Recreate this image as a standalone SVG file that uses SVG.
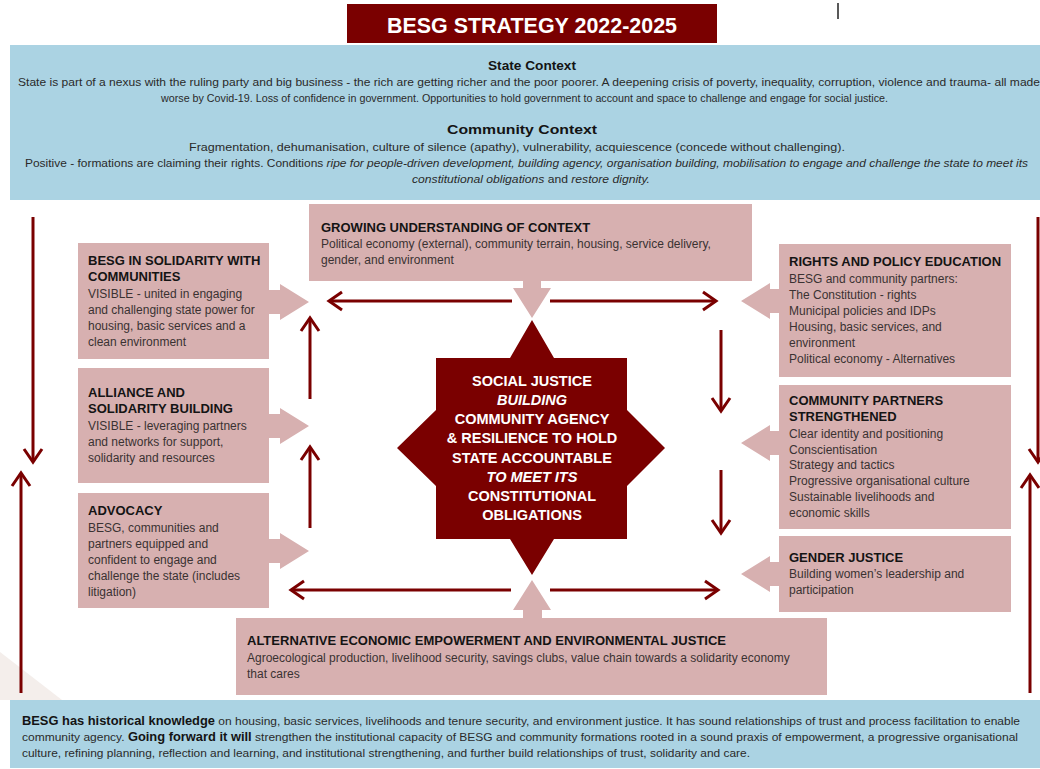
<svg xmlns="http://www.w3.org/2000/svg" width="1040" height="769" viewBox="0 0 1040 769">
<defs>
<style>
.pink{fill:#d7b0b0}
.blue{fill:#abd3e3}
.maroon{fill:#7a0000}
.ttl{font-family:"Liberation Sans",Arial,sans-serif;font-weight:bold;font-size:13px;fill:#141414}
.bd{font-family:"Liberation Sans",Arial,sans-serif;font-size:12px;fill:#3a3232}
.ctx{font-family:"Liberation Sans",Arial,sans-serif;font-size:11.2px;fill:#2a2a2a}
.ctxh{font-family:"Liberation Sans",Arial,sans-serif;font-size:12px;font-weight:bold;fill:#141414}
.star{font-family:"Liberation Sans",Arial,sans-serif;font-size:14.5px;font-weight:bold;fill:#ffffff;text-anchor:middle}
.ln{fill:none;stroke:#7a0000;stroke-width:3;marker-end:url(#ah)}
</style>
<marker id="ah" viewBox="-16 -12 20 24" refX="0" refY="0" markerWidth="20" markerHeight="24" markerUnits="userSpaceOnUse" orient="auto">
<path d="M-13,-9 L0,0 L-13,9" fill="none" stroke="#7a0000" stroke-width="3"/>
</marker>
</defs>
<rect width="1040" height="769" fill="#ffffff"/>
<polygon points="0,652 62,700 0,700" fill="#f4eeeb"/>
<line x1="838" y1="3" x2="838" y2="19" stroke="#222" stroke-width="1.5"/>

<g id="title">
<rect x="347" y="4" width="370" height="39" class="maroon"/>
<text x="387" y="33" font-family="Liberation Sans,Arial,sans-serif" font-weight="bold" font-size="21.5" fill="#fff" textLength="290" lengthAdjust="spacingAndGlyphs">BESG STRATEGY 2022-2025</text>
</g>

<g id="context">
<rect x="10" y="45" width="1030" height="155" class="blue"/>
<text x="488" y="70" class="ctxh" textLength="88" lengthAdjust="spacingAndGlyphs">State Context</text>
<text x="18" y="86" class="ctx" textLength="1022" lengthAdjust="spacingAndGlyphs">State is part of a nexus with the ruling party and big business - the rich are getting richer and the poor poorer. A deepening crisis of poverty, inequality, corruption, violence and trauma- all made</text>
<text x="161" y="102" class="ctx" textLength="727" lengthAdjust="spacingAndGlyphs">worse by Covid-19. Loss of confidence in government. Opportunities to hold government to account and space to challenge and engage for social justice.</text>
<text x="447" y="134" class="ctxh" textLength="150" lengthAdjust="spacingAndGlyphs">Community Context</text>
<text x="189" y="151" class="ctx" textLength="656" lengthAdjust="spacingAndGlyphs">Fragmentation, dehumanisation, culture of silence (apathy), vulnerability, acquiescence (concede without challenging).</text>
<text x="25" y="167" class="ctx" textLength="1003" lengthAdjust="spacingAndGlyphs">Positive - formations are claiming their rights. Conditions <tspan font-style="italic">ripe for people-driven development, building agency, organisation building, mobilisation to engage and challenge the state to meet its</tspan></text>
<text x="412" y="183" class="ctx" textLength="238" lengthAdjust="spacingAndGlyphs"><tspan font-style="italic">constitutional obligations</tspan> and <tspan font-style="italic">restore dignity.</tspan></text>
</g>

<g id="growing">
<path class="pink" d="M309,204 H752 V281 H541 V288 H551 L532,318 L513,288 H523 V281 H309 Z"/>
<text x="321" y="232" class="ttl">GROWING UNDERSTANDING OF CONTEXT</text>
<text x="321" y="248" class="bd">Political economy (external), community terrain, housing, service delivery,</text>
<text x="321" y="264" class="bd">gender, and environment</text>
</g>

<g id="solidarity">
<path class="pink" d="M78,243 H269 V290 H280 V284 L309,302 L280,320 V314 H269 V359 H78 Z"/>
<text x="88" y="265" class="ttl">BESG IN SOLIDARITY WITH</text>
<text x="88" y="281" class="ttl">COMMUNITIES</text>
<text x="88" y="298" class="bd">VISIBLE - united in engaging</text>
<text x="88" y="314" class="bd">and challenging state power for</text>
<text x="88" y="330" class="bd">housing, basic services and a</text>
<text x="88" y="346" class="bd">clean environment</text>
</g>

<g id="alliance">
<path class="pink" d="M78,368 H269 V414 H280 V408 L309,426 L280,444 V438 H269 V483 H78 Z"/>
<text x="88" y="397" class="ttl">ALLIANCE AND</text>
<text x="88" y="413" class="ttl">SOLIDARITY BUILDING</text>
<text x="88" y="430" class="bd">VISIBLE - leveraging partners</text>
<text x="88" y="446" class="bd">and networks for support,</text>
<text x="88" y="462" class="bd">solidarity and resources</text>
</g>

<g id="advocacy">
<path class="pink" d="M78,493 H269 V539 H280 V533 L309,551 L280,569 V563 H269 V608 H78 Z"/>
<text x="88" y="515" class="ttl">ADVOCACY</text>
<text x="88" y="532" class="bd">BESG, communities and</text>
<text x="88" y="548" class="bd">partners equipped and</text>
<text x="88" y="564" class="bd">confident to engage and</text>
<text x="88" y="580" class="bd">challenge the state (includes</text>
<text x="88" y="596" class="bd">litigation)</text>
</g>

<g id="rights">
<path class="pink" d="M779,244 H1011 V377 H779 V313 H770 V319 L741,301 L770,283 V289 H779 Z"/>
<text x="789" y="266" class="ttl">RIGHTS AND POLICY EDUCATION</text>
<text x="789" y="283" class="bd">BESG and community partners:</text>
<text x="789" y="299" class="bd">The Constitution - rights</text>
<text x="789" y="315" class="bd">Municipal policies and IDPs</text>
<text x="789" y="331" class="bd">Housing, basic services, and</text>
<text x="789" y="347" class="bd">environment</text>
<text x="789" y="363" class="bd">Political economy - Alternatives</text>
</g>

<g id="partners">
<path class="pink" d="M779,385 H1011 V529 H779 V455 H770 V461 L741,443 L770,425 V431 H779 Z"/>
<text x="789" y="405" class="ttl">COMMUNITY PARTNERS</text>
<text x="789" y="421" class="ttl">STRENGTHENED</text>
<text x="789" y="438" class="bd">Clear identity and positioning</text>
<text x="789" y="454" class="bd">Conscientisation</text>
<text x="789" y="469" class="bd">Strategy and tactics</text>
<text x="789" y="485" class="bd">Progressive organisational culture</text>
<text x="789" y="501" class="bd">Sustainable livelihoods and</text>
<text x="789" y="517" class="bd">economic skills</text>
</g>

<g id="gender">
<path class="pink" d="M779,536 H1011 V612 H779 V586 H770 V592 L741,574 L770,556 V562 H779 Z"/>
<text x="789" y="562" class="ttl">GENDER JUSTICE</text>
<text x="789" y="578" class="bd">Building women’s leadership and</text>
<text x="789" y="594" class="bd">participation</text>
</g>

<g id="economic">
<path class="pink" d="M236,618 H523 V610 H513 L532,580 L551,610 H542 V618 H827 V695 H236 Z"/>
<text x="247" y="645" class="ttl" textLength="479" lengthAdjust="spacingAndGlyphs">ALTERNATIVE ECONOMIC EMPOWERMENT AND ENVIRONMENTAL JUSTICE</text>
<text x="247" y="662" class="bd">Agroecological production, livelihood security, savings clubs, value chain towards a solidarity economy</text>
<text x="247" y="678" class="bd">that cares</text>
</g>

<g id="core">
<polygon class="maroon" points="532,320 554,358 627,358 627,410 665,448 627,486 627,539 554,539 532,575 510,539 436,539 436,486 397,448 436,410 436,358 510,358"/>
<text x="532" y="386" class="star">SOCIAL JUSTICE</text>
<text x="532" y="405" class="star" font-style="italic">BUILDING</text>
<text x="532" y="424" class="star">COMMUNITY AGENCY</text>
<text x="532" y="443" class="star">&amp; RESILIENCE TO HOLD</text>
<text x="532" y="463" class="star">STATE ACCOUNTABLE</text>
<text x="532" y="482" class="star" font-style="italic">TO MEET ITS</text>
<text x="532" y="501" class="star">CONSTITUTIONAL</text>
<text x="532" y="520" class="star">OBLIGATIONS</text>
</g>

<g id="history">
<rect x="10" y="700" width="1030" height="68" class="blue"/>
<text x="22" y="725" class="ctx" font-size="11" textLength="998" lengthAdjust="spacingAndGlyphs"><tspan font-weight="bold" fill="#141414" font-size="12">BESG has historical knowledge</tspan> on housing, basic services, livelihoods and tenure security, and environment justice. It has sound relationships of trust and process facilitation to enable</text>
<text x="22" y="741" class="ctx" font-size="11" textLength="996" lengthAdjust="spacingAndGlyphs">community agency. <tspan font-weight="bold" fill="#141414" font-size="12">Going forward it will</tspan> strengthen the institutional capacity of BESG and community formations rooted in a sound praxis of empowerment, a progressive organisational</text>
<text x="22" y="757" class="ctx" font-size="11" textLength="728" lengthAdjust="spacingAndGlyphs">culture, refining planning, reflection and learning, and institutional strengthening, and further build relationships of trust, solidarity and care.</text>
</g>

<g id="connectors">
<path class="ln" d="M33,217 V462"/>
<path class="ln" d="M21,693 V473"/>
<path class="ln" d="M1038,217 V462"/>
<path class="ln" d="M1030,693 V475"/>
<path class="ln" d="M512,301 H329"/>
<path class="ln" d="M550,301 H716"/>
<path class="ln" d="M511,590 H291"/>
<path class="ln" d="M550,590 H718"/>
<path class="ln" d="M310,399 V318"/>
<path class="ln" d="M310,528 V447"/>
<path class="ln" d="M721,330 V411"/>
<path class="ln" d="M721,470 V533"/>
</g>
</svg>
